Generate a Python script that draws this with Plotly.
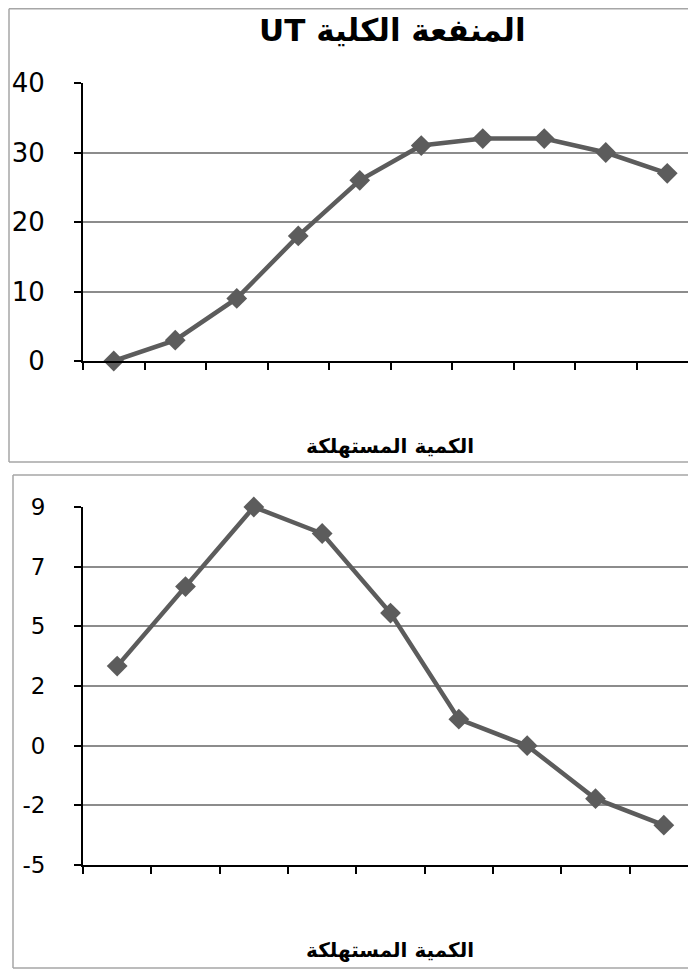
import plotly.graph_objects as go

# ---- data ----
quantity_tu = list(range(10))          # categories for total utility chart
total_utility = [0, 3, 9, 18, 26, 31, 32, 32, 30, 27]
quantity_mu = list(range(9))           # categories for marginal utility chart
marginal_utility = [3, 6, 9, 8, 5, 1, 0, -2, -3]

tu_tickvals = [0, 10, 20, 30, 40]
tu_ticktext = ["0", "10", "20", "30", "40"]
mu_tickvals = [-4.5, -2.25, 0, 2.25, 4.5, 6.75, 9]
mu_ticktext = ["-5", "-2", "0", "2", "5", "7", "9"]

title_text = "UT المنفعة الكلية"
xaxis_title = "الكمية المستهلكة"

OFF = 8                      # page offset of the figure
W, H = 696 - OFF, 971 - OFF
LINE = "#5c5c5c"
GRID = "#8c8c8c"
BORDER = "#a6a6a6"
FONT = "DejaVu Sans"


def px_x(p):
    return (p - OFF) / W


def px_y(p):
    return 1 - (p - OFF) / H


fig = go.Figure()

fig.add_trace(go.Scatter(
    x=quantity_tu, y=total_utility, mode="lines+markers",
    line=dict(color=LINE, width=4.5),
    marker=dict(symbol="diamond", size=16, color=LINE),
    cliponaxis=False, xaxis="x", yaxis="y", showlegend=False,
))
fig.add_trace(go.Scatter(
    x=quantity_mu, y=marginal_utility, mode="lines+markers",
    line=dict(color=LINE, width=4.5),
    marker=dict(symbol="diamond", size=16, color=LINE),
    cliponaxis=False, xaxis="x2", yaxis="y2", showlegend=False,
))

ax_left = 83
cat_w_top = (698 - ax_left) / 10
cat_w_bot = (698 - ax_left) / 9
right_edge = OFF + W

common_x = dict(showgrid=False, zeroline=False, showline=True, linecolor="black",
                linewidth=2, ticks="outside", ticklen=7, tickwidth=2,
                tickcolor="black", showticklabels=False, automargin=False)
common_y = dict(showgrid=True, gridcolor=GRID, gridwidth=2, zeroline=False,
                showline=True, linecolor="black", linewidth=2, ticks="outside",
                ticklen=7, tickwidth=2, tickcolor="black",
                ticklabelstandoff=24, automargin=False)

fig.update_layout(
    width=W, height=H,
    margin=dict(l=0, r=0, t=0, b=0, autoexpand=False),
    paper_bgcolor="white", plot_bgcolor="white",
    font=dict(family=FONT, color="black"),
    xaxis=dict(domain=[px_x(ax_left), 1],
               range=[-0.5, -0.5 + (right_edge - ax_left) / cat_w_top],
               tickvals=[i - 0.5 for i in range(10)],
               anchor="y", **common_x),
    yaxis=dict(domain=[px_y(361), px_y(83)], range=[0, 40],
               tickvals=tu_tickvals, ticktext=tu_ticktext,
               tickfont=dict(size=26, family=FONT),
               anchor="x", **common_y),
    xaxis2=dict(domain=[px_x(ax_left), 1],
                range=[-0.5, -0.5 + (right_edge - ax_left) / cat_w_bot],
                tickvals=[i - 0.5 for i in range(9)],
                anchor="y2", **common_x),
    yaxis2=dict(domain=[px_y(865), px_y(507)], range=[-4.5, 9],
                tickvals=mu_tickvals, ticktext=mu_ticktext,
                tickfont=dict(size=23, family=FONT),
                anchor="x2", **common_y),
)

# chart borders
shapes = []
for (x0, y0, y1) in [(9, 8.7, 462), (13, 475, 968)]:
    for yy in (y0, y1):
        shapes.append(dict(type="line", xref="paper", yref="paper",
                           x0=px_x(x0), x1=1.05, y0=px_y(yy), y1=px_y(yy),
                           line=dict(color=BORDER, width=1.5)))
    shapes.append(dict(type="line", xref="paper", yref="paper",
                       x0=px_x(x0), x1=px_x(x0), y0=px_y(y0), y1=px_y(y1),
                       line=dict(color=BORDER, width=1.5)))
fig.update_layout(shapes=shapes)

annotations = [
    dict(text="<b>" + title_text + "</b>", xref="paper", yref="paper",
         x=px_x(392), y=px_y(30), showarrow=False, xanchor="center",
         yanchor="middle", font=dict(size=31, family=FONT, color="black")),
    dict(text="<b>" + xaxis_title + "</b>", xref="paper", yref="paper",
         x=px_x(390), y=px_y(446), showarrow=False, xanchor="center",
         yanchor="middle", font=dict(size=20, family=FONT, color="black")),
    dict(text="<b>" + xaxis_title + "</b>", xref="paper", yref="paper",
         x=px_x(390), y=px_y(950), showarrow=False, xanchor="center",
         yanchor="middle", font=dict(size=20, family=FONT, color="black")),
]
fig.update_layout(annotations=annotations)

fig.write_html("out.html")
